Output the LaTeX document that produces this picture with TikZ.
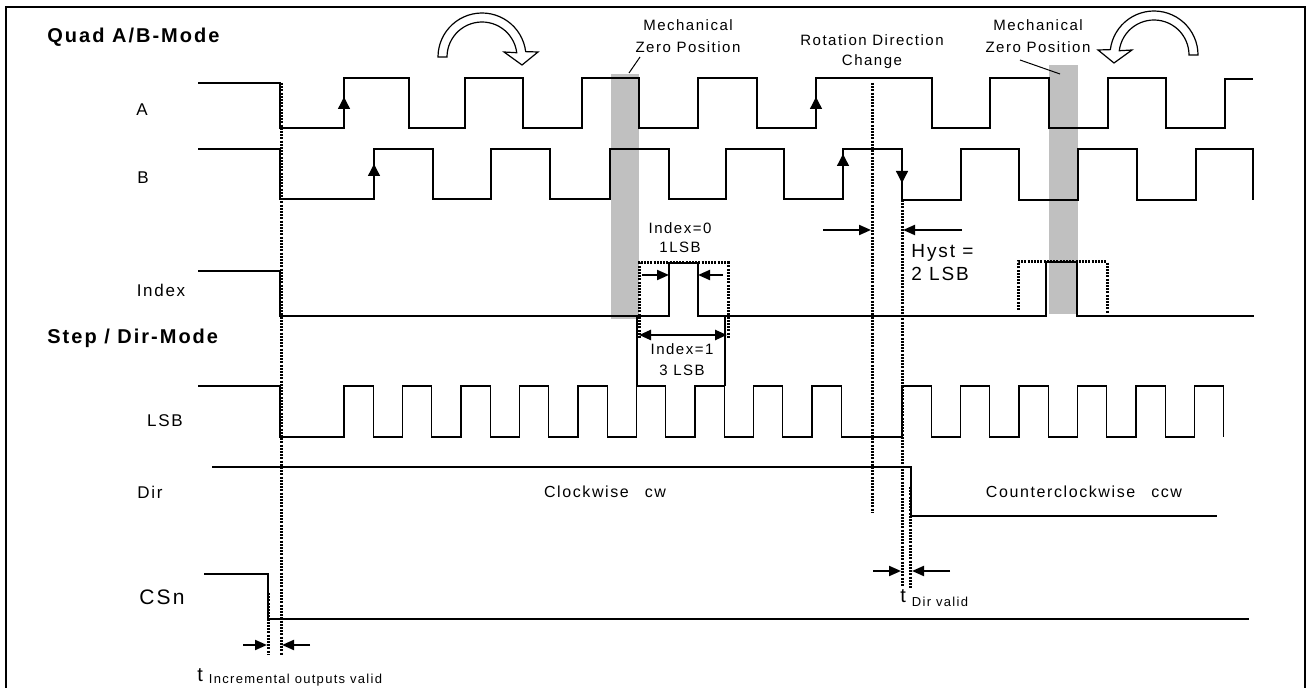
\documentclass[tikz,border=0pt]{standalone}
\usepackage{fontspec}
\setmainfont{Liberation Sans}[LetterSpace=10]
\usetikzlibrary{arrows.meta}

\definecolor{zerogray}{RGB}{192,192,192}

\begin{document}
\begin{tikzpicture}[x=0.5pt, y=-0.5pt, >={Triangle[length=6pt,width=5pt]},
  sig/.style={line width=0.65pt, line join=miter},
  dotln/.style={line width=1.5pt, dash pattern=on 1pt off 0.6pt},
  meas/.style={line width=1pt, ->},
  edgetip/.style={line width=0.65pt, -{Triangle[length=6pt,width=6pt]}},
  zerobar/.style={fill=zerogray, draw=none},
  sigl/.style={inner sep=0pt, font=\fontsize{8.5}{10}\selectfont},
  mode/.style={inner sep=0pt, anchor=west, font=\fontsize{10}{12}\selectfont\bfseries},
  note/.style={inner sep=0pt, align=center, font=\fontsize{7.5}{10.5}\selectfont},
  turnarrow/.style={draw, fill=white, line width=0.6pt, line join=miter}]
\useasboundingbox (0,0) rectangle (1311,688);
\draw[line width=1.2pt] (6,688) -- (6,7) -- (1305,7) -- (1305,688);

% mechanical zero position
\fill[zerobar] (611,74) rectangle (639,319);
\fill[zerobar] (1049,65) rectangle (1078,314);

% signals
\draw[sig] (198,83) -- (280,83) -- (280,128) -- (344,128) -- (344,78) -- (409,78) -- (409,128)
  -- (465,128) -- (465,78) -- (523,78) -- (523,128) -- (582,128) -- (582,78) -- (639,78)
  -- (639,128) -- (698,128) -- (698,78) -- (757,78) -- (757,128) -- (816,128) -- (816,78)
  -- (932,78) -- (932,128) -- (990,128) -- (990,78) -- (1049,78) -- (1049,128) -- (1108,128)
  -- (1108,78) -- (1166,78) -- (1166,128) -- (1225,128) -- (1225,79) -- (1253,79);
\draw[sig] (198,149) -- (280,149) -- (280,199) -- (374,199) -- (374,149) -- (433,149) -- (433,199)
  -- (491,199) -- (491,149) -- (550,149) -- (550,199) -- (610,199) -- (610,149) -- (669,149)
  -- (669,199) -- (726,199) -- (726,149) -- (784,149) -- (784,199) -- (843,199) -- (843,149)
  -- (902,149) -- (902,200) -- (961,200) -- (961,149) -- (1019,149) -- (1019,200) -- (1078,200)
  -- (1078,149) -- (1137,149) -- (1137,200) -- (1196,200) -- (1196,149) -- (1253,149) -- (1253,200);
\draw[sig] (198,271) -- (280,271) -- (280,316) -- (669,316) -- (669,263) -- (698,263) -- (698,316)
  -- (1046,316) -- (1046,262) -- (1077,262) -- (1077,316) -- (1254,316);
\draw[sig] (198,386) -- (280,386) -- (280,437)
  \foreach \x in {344,402.5,461,519.5,578,636.5,695,753.5,812,902,960.5,1019,1077.5,1136,1194.5}
  { -- (\x,437) -- (\x,386) -- ++(29.25,0) -- ++(0,51) };
\draw[sig] (212,467) -- (911,467) -- (911,516) -- (1217,516);
\draw[sig] (204,574) -- (268,574) -- (268,619) -- (1249,619);
\draw[sig] (637,316) -- (637,386);
\draw[sig] (725,316) -- (725,386);

% edge markers
\draw[edgetip] (344,118) -- (344,97);
\draw[edgetip] (374,185) -- (374,164);
\draw[edgetip] (816,118) -- (816,97);
\draw[edgetip] (843,175) -- (843,154);
\draw[edgetip] (902,160) -- (902,183);

% dotted references
\draw[dotln] (281,83) -- (281,655);
\draw[dotln] (872,83) -- (872,513);
\draw[dotln] (902,200) -- (902,587);
\draw[dotln] (910,487) -- (910,588);
\draw[dotln] (268,593) -- (268,655);
\draw[dotln] (639,338) -- (639,263) -- (728,263) -- (728,338);
\draw[dotln] (1018,310) -- (1018,262) -- (1107,262) -- (1107,313);

% timing arrows
\draw[meas] (642,275) -- (669,275);
\draw[meas] (723,275) -- (698,275);
\draw[meas, <->, line width=1.2pt] (639,335) -- (727,335);
\draw[meas] (823,230) -- (871,230);
\draw[meas] (962,230) -- (903,230);
\draw[meas] (873,571) -- (901,571);
\draw[meas] (950,571) -- (912,571);
\draw[meas] (243,645) -- (267,645);
\draw[meas] (310,645) -- (282,645);

% rotation arrows
\foreach \cx/\cy/\s in {482/57/1, 1154/55/-1}
  \draw[turnarrow, shift={(\cx,\cy)}, xscale=\s]
    plot[domain=180:353, samples=30] (\x:44) -- (56,-5) -- (40,8) -- (22,-5)
    -- plot[domain=353:180, samples=30] (\x:35) -- cycle;

% labels
\node[mode] (quad) at (47,37) {Quad A/B-Mode};
\node[mode] (stepdir) at (47,338) {Step / Dir-Mode};
\node[sigl] (lblA) at (142,110) {A};
\node[sigl] (lblB) at (143,178) {B};
\node[sigl] (lblIndex) at (161,290) {Index};
\node[sigl] (lblLSB) at (165,421) {LSB};
\node[sigl] (lblDir) at (150,492) {Dir};
\node[sigl, font=\fontsize{10.5}{12}\selectfont] (lblCSn) at (162,597) {CSn};

\node[note, font=\fontsize{7.5}{11}\selectfont] (zero1) at (688,36) {Mechanical\\Zero Position};
\node[note, font=\fontsize{7.5}{11}\selectfont] (zero2) at (1038,36) {Mechanical\\Zero Position};
\draw[line width=0.5pt] (640,57) -- (629,73);
\draw[line width=0.5pt] (1020,60) -- (1060,74);
\node[note, font=\fontsize{7.5}{10}\selectfont] (rotchg) at (872,52) {Rotation Direction\\Change};
\node[note, font=\fontsize{7.5}{9.5}\selectfont] (idx0) at (680,238) {Index=0\\1LSB};
\node[note] (idx1) at (682,360) {Index=1\\3 LSB};
\node[inner sep=0pt, anchor=west, align=left, font=\fontsize{9.5}{11.5}\selectfont] (hyst) at (911,263) {Hyst =\\2 LSB};
\node[sigl, font=\fontsize{8}{10}\selectfont] (cw) at (605,492) {Clockwise\quad cw};
\node[sigl, font=\fontsize{8}{10}\selectfont] (ccw) at (1084,492) {Counterclockwise\quad ccw};
\node[inner sep=0pt, anchor=base west, font=\fontsize{10}{11}\selectfont] (tdir) at (900,603)
  {t\hspace{3pt}\raisebox{-2pt}{\fontsize{6.5}{8}\selectfont Dir valid}};
\node[inner sep=0pt, anchor=base west, font=\fontsize{10}{11}\selectfont] (tinc) at (197,682)
  {t\hspace{3pt}\raisebox{-1pt}{\fontsize{6.5}{8}\selectfont Incremental outputs valid}};
\end{tikzpicture}
\end{document}
